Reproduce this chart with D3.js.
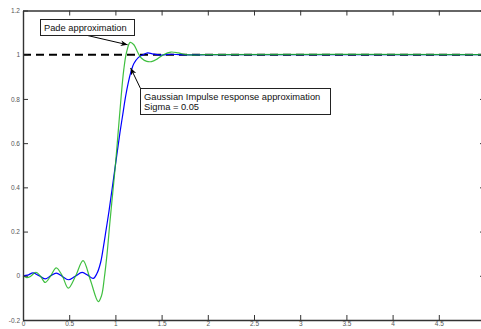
<!DOCTYPE html>
<html>
<head>
<meta charset="utf-8">
<script src="https://cdn.jsdelivr.net/npm/d3@7"></script>
<style>
  html, body { margin: 0; padding: 0; background: #fff; }
  svg { display: block; }
  .tick text { font-family: "Liberation Sans", Arial, sans-serif; font-size: 6.5px; fill: #555; }
  .note { font-family: "Liberation Sans", Arial, sans-serif; font-size: 9.3px; fill: #111; }
</style>
</head>
<body>
<svg id="chart" width="481" height="329"></svg>
<script>
// Step responses of two delay approximations, sampled in time (s)
const gaussT = [0, 0.05, 0.11, 0.175, 0.24, 0.3, 0.36, 0.425, 0.49, 0.565, 0.64, 0.70, 0.76, 0.80, 0.84, 0.87, 0.90, 0.93, 0.96, 0.99, 1.02, 1.05, 1.08, 1.11, 1.14, 1.17, 1.20, 1.25, 1.30, 1.35, 1.40, 1.50, 1.60, 1.70, 1.80, 2.0, 5.0];
const gaussV = [0, 0.003, 0.013, 0.0, -0.014, 0.0, 0.012, -0.003, -0.018, -0.002, 0.015, 0.003, -0.012, 0.01, 0.06, 0.13, 0.21, 0.29, 0.38, 0.47, 0.56, 0.65, 0.73, 0.81, 0.875, 0.925, 0.96, 0.988, 1.0, 1.008, 1.004, 0.998, 1.002, 1.0, 0.999, 1.0, 1.0];

const padeT = [0, 0.04, 0.08, 0.14, 0.19, 0.24, 0.30, 0.36, 0.425, 0.49, 0.57, 0.65, 0.73, 0.815, 0.85, 0.88, 0.91, 0.94, 0.97, 1.00, 1.03, 1.06, 1.09, 1.12, 1.16, 1.20, 1.24, 1.28, 1.34, 1.39, 1.45, 1.52, 1.60, 1.68, 1.76, 1.85, 1.95, 5.0];
const padeV = [0, -0.008, -0.003, 0.016, -0.002, -0.03, 0.0, 0.036, 0.0, -0.056, 0.0, 0.069, -0.02, -0.117, -0.09, -0.01, 0.1, 0.24, 0.37, 0.5, 0.65, 0.8, 0.93, 1.01, 1.056, 1.045, 1.012, 0.985, 0.97, 0.969, 0.98, 1.0, 1.012, 1.008, 1.0, 0.998, 1.0, 1.0];

// Reference level
const refT = [0, 5];
const refV = [1, 1];

const xTicks = [0, 0.5, 1, 1.5, 2, 2.5, 3, 3.5, 4, 4.5, 5];
const xTickLabels = ["0", "0.5", "1", "1.5", "2", "2.5", "3", "3.5", "4", "4.5", "5"];
const yTicks = [-0.2, 0, 0.2, 0.4, 0.6, 0.8, 1, 1.2];
const yTickLabels = ["-0.2", "0", "0.2", "0.4", "0.6", "0.8", "1", "1.2"];

const padeNote = ["Pade approximation"];
const gaussNote = ["Gaussian Impulse response approximation", "Sigma = 0.05"];

const svg = d3.select("#chart");
const x = d3.scaleLinear().domain([0, 5]).range([23, 485]);
const y = d3.scaleLinear().domain([-0.2, 1.2]).range([320, 10.5]);

// Arrowhead marker
svg.append("defs").append("marker")
  .attr("id", "head")
  .attr("viewBox", "0 0 10 10")
  .attr("refX", 10).attr("refY", 5)
  .attr("markerWidth", 7).attr("markerHeight", 7)
  .attr("markerUnits", "userSpaceOnUse")
  .attr("orient", "auto")
  .append("path")
  .attr("d", "M0,1 L10,5 L0,9 L3,5 Z")
  .attr("fill", "#000");

const line = d3.line().x(d => x(d[0])).y(d => y(d[1])).curve(d3.curveCatmullRom.alpha(0.5));

// dashed reference first, curves over it
svg.append("path")
  .datum(refT.map((t, i) => [t, refV[i]]))
  .attr("d", d3.line().x(d => x(d[0])).y(d => y(d[1])))
  .attr("fill", "none").attr("stroke", "#000").attr("stroke-width", 2)
  .attr("stroke-dasharray", "8,5");

svg.append("path")
  .datum(gaussT.map((t, i) => [t, gaussV[i]]))
  .attr("d", line)
  .attr("fill", "none").attr("stroke", "#0000ff").attr("stroke-width", 1.2);

svg.append("path")
  .datum(padeT.map((t, i) => [t, padeV[i]]))
  .attr("d", line)
  .attr("fill", "none").attr("stroke", "#1db41d").attr("stroke-width", 1.2)
  .attr("stroke-opacity", 0.85);

// Axes with inward ticks on all four sides
function styleAxis(g) {
  g.select(".domain").attr("stroke", "#333").attr("stroke-width", 1.4);
  g.selectAll(".tick line").attr("stroke", "#333").attr("stroke-width", 1);
}
svg.append("g").attr("transform", `translate(0,${y(-0.2)})`)
  .call(d3.axisBottom(x).tickValues(xTicks.slice(0, -1)).tickSize(-5).tickSizeOuter(0)
    .tickPadding(1.5).tickFormat((d, i) => xTickLabels[i]))
  .call(styleAxis);
svg.append("g").attr("transform", `translate(0,${y(1.2)})`)
  .call(d3.axisTop(x).tickValues(xTicks.slice(0, -1)).tickSize(-5).tickSizeOuter(0).tickFormat(""))
  .call(styleAxis);
svg.append("g").attr("transform", `translate(${x(0)},0)`)
  .call(d3.axisLeft(y).tickValues(yTicks).tickSize(-5).tickSizeOuter(0)
    .tickPadding(3).tickFormat((d, i) => yTickLabels[i]))
  .call(styleAxis);
svg.append("g").attr("transform", `translate(${x(5)},0)`)
  .call(d3.axisRight(y).tickValues(yTicks).tickSize(-5).tickSizeOuter(0).tickFormat(""))
  .call(styleAxis);
svg.selectAll(".tick text").attr("font-family", null).attr("font-size", null).attr("fill", null);

// Text-arrow annotations
function note(lines, box, from, to) {
  const g = svg.append("g");
  g.append("line")
    .attr("x1", from[0]).attr("y1", from[1]).attr("x2", to[0]).attr("y2", to[1])
    .attr("stroke", "#000").attr("stroke-width", 1).attr("marker-end", "url(#head)");
  g.append("rect")
    .attr("x", box.x).attr("y", box.y).attr("width", box.w).attr("height", box.h)
    .attr("fill", "#fff").attr("stroke", "#222").attr("stroke-width", 1);
  g.selectAll("text").data(lines).join("text")
    .attr("class", "note")
    .attr("x", box.x + 3.5)
    .attr("y", (d, i) => box.y + box.lineY + i * 10.8)
    .text(d => d);
}
note(padeNote, {x: 40.5, y: 19.5, w: 94, h: 16, lineY: 11.5}, [87.5, 35.5], [x(1.132), y(1.045)]);
note(gaussNote, {x: 140.5, y: 88.5, w: 190, h: 26, lineY: 11}, [140.5, 88.5], [x(1.165), y(0.94)]);
</script>
</body>
</html>
